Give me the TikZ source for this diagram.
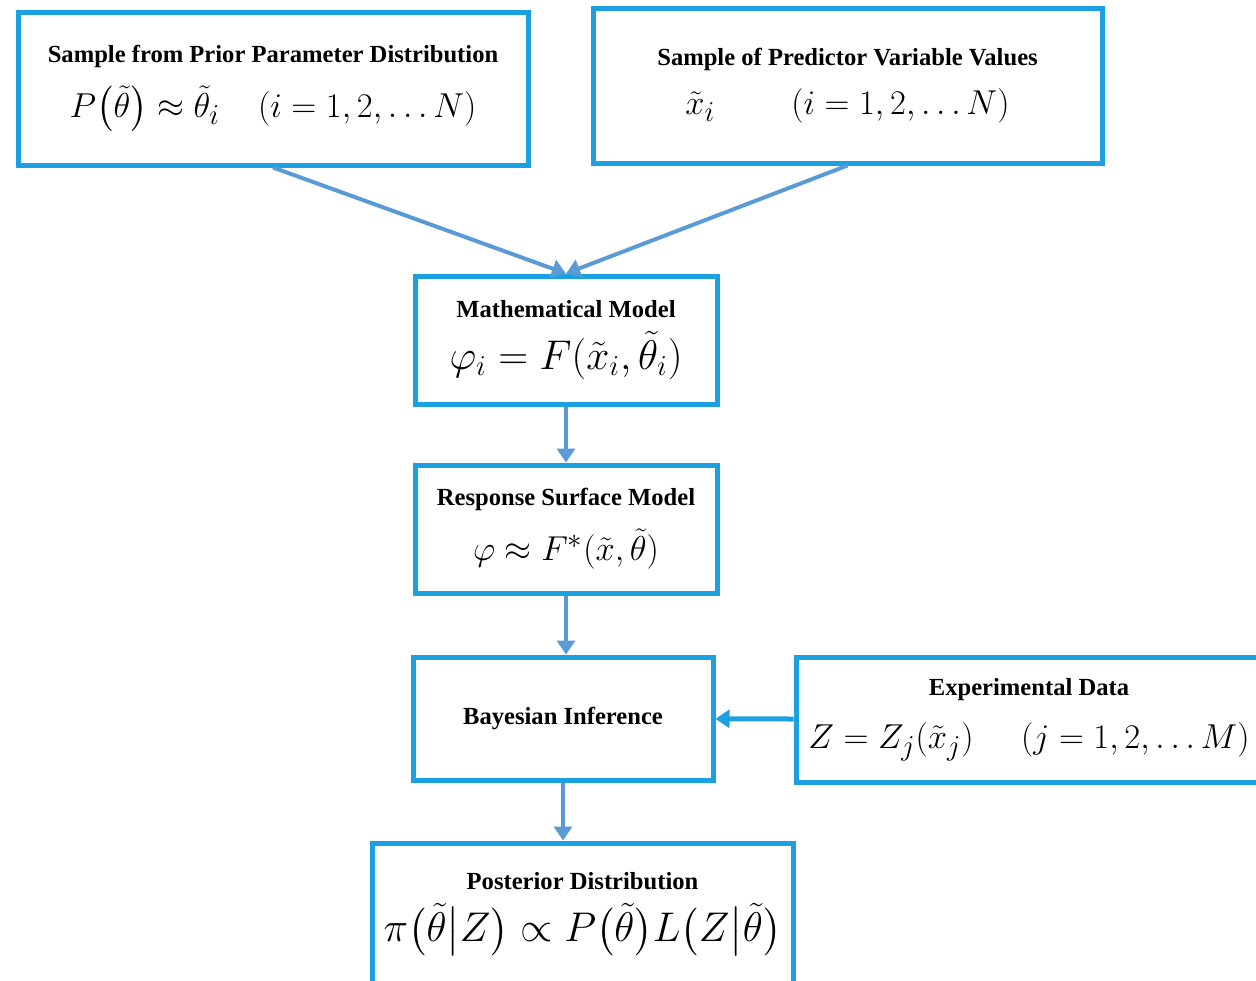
\documentclass[tikz,border=0pt]{standalone}
\usepackage{fontspec}
\setmainfont{Liberation Serif}
\usepackage{amsmath,amssymb}
\usepackage{xcolor}
\usepackage{tikz}
\usetikzlibrary{arrows.meta,positioning}
\definecolor{boxblue}{RGB}{27,161,226}
\definecolor{arrowblue}{RGB}{91,155,213}
\tikzset{stagebox/.style={
    % The shape:
    rectangle,line width=2.5pt,draw=boxblue,fill=white,
    % The rest
    align=center,inner sep=2pt
  },
  flow/.style={line width=2pt,draw=arrowblue,
    -{Triangle[length=7pt,width=9pt]}}
}
\newcommand{\boxtitle}[1]{{\bfseries\fontsize{12.3}{14}\selectfont #1}}
\newcommand{\bigmath}[2][19]{{\fontsize{#1}{22}\selectfont $#2$}}

\begin{document}
\begin{tikzpicture}[x=0.5pt,y=-0.5pt]
      \clip (0,0) rectangle (1256,980);

      \node (prior) [stagebox,minimum width=255pt,minimum height=76.5pt] at (273,88.5) {
        \boxtitle{Sample from Prior Parameter Distribution}\\[8pt]
        \bigmath{P\bigl(\tilde{\theta}\bigr) \approx \tilde{\theta}_i \quad (i = 1,2,\ldots N)}};

      \node (pred) [stagebox,minimum width=254.5pt,minimum height=77.5pt] at (847.5,85.5) {
        \boxtitle{Sample of Predictor Variable Values}\\[8pt]
        \bigmath{\tilde{x}_i \qquad (i = 1,2,\ldots N)}};

      \node (model) [stagebox,minimum width=151pt,minimum height=64pt] at (566,340) {
        \boxtitle{Mathematical Model}\\[5.5pt]
        \bigmath[21]{\varphi_i = F(\tilde{x}_i,\tilde{\theta}_i)}};

      \node (rsm) [stagebox,minimum width=151pt,minimum height=64pt] at (566,529) {
        \boxtitle{Response Surface Model}\\[8pt]
        \bigmath{\varphi \approx F^{*}(\tilde{x},\tilde{\theta})}};

      \node (bayes) [stagebox,minimum width=150pt,minimum height=61.5pt] at (563,718.5) {
        \boxtitle{Bayesian Inference}};

      \node (exp) [stagebox,minimum width=233pt,minimum height=62.5pt] at (1029,719.5) {
        \boxtitle{Experimental Data}\\[10pt]
        \bigmath{Z = Z_j(\tilde{x}_j) \quad\; (j = 1,2,\ldots M)}};

      \node (post) [stagebox,minimum width=210.5pt,minimum height=71pt] at (582.5,914) {
        \boxtitle{Posterior Distribution}\\[6pt]
        \bigmath[20]{\pi\bigl(\tilde{\theta}\big|Z\bigr) \propto P\bigl(\tilde{\theta}\bigr)L\bigl(Z\big|\tilde{\theta}\bigr)}\\[-5pt]\mbox{}};

      \path (prior.south) edge[flow] (model.north);
      \path (pred.south) edge[flow] (model.north);
      \path (model) edge[flow] (rsm);
      \path (rsm.south) edge[flow] (bayes.north -| rsm.south);
      \path (exp) edge[flow,draw=boxblue,line width=2.5pt] (bayes);
      \path (bayes) edge[flow] (post.north -| bayes.south);
    \end{tikzpicture}
\end{document}
